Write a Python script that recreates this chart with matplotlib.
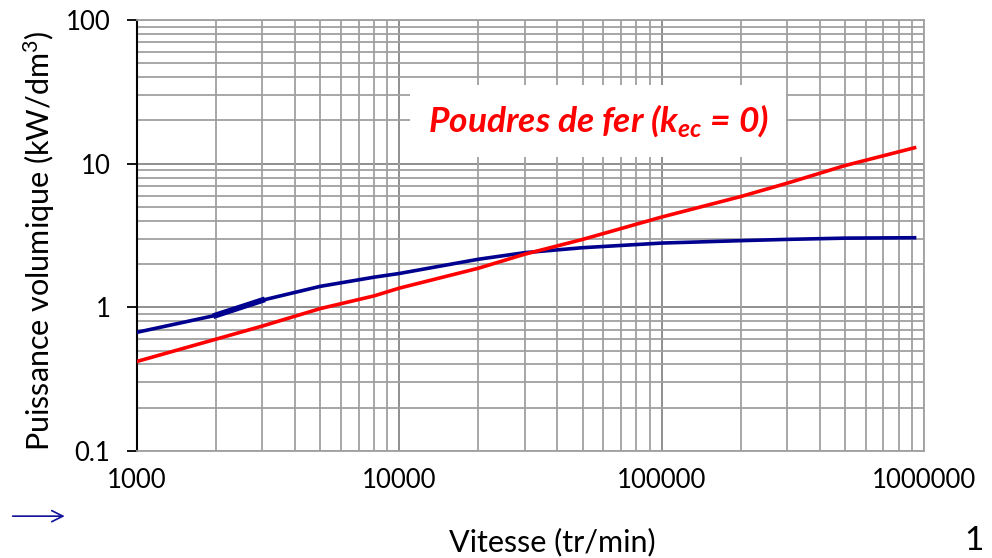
import matplotlib.pyplot as plt

plt.rcParams['font.family'] = ['Lato', 'DejaVu Sans']
plt.rcParams['mathtext.fontset'] = 'custom'
plt.rcParams['mathtext.it'] = 'Lato:bold:italic'
plt.rcParams['mathtext.rm'] = 'Lato:bold:italic'

# vitesse (tr/min) et puissance volumique (kW/dm3)
vitesse = [1000, 2000, 3000, 5000, 8000, 10000, 20000, 30000, 50000,
           100000, 200000, 300000, 500000, 920000]
p_tole = [0.67, 0.88, 1.12, 1.40, 1.62, 1.72, 2.16, 2.40, 2.60,
          2.80, 2.91, 2.97, 3.03, 3.05]
p_poudre = [0.42, 0.60, 0.74, 0.98, 1.20, 1.36, 1.87, 2.34, 2.97,
            4.25, 5.90, 7.30, 9.70, 12.9]

fig = plt.figure(figsize=(9.92, 5.58), dpi=100)
ax = fig.add_axes([0.1381, 0.1918, 0.7934, 0.7724])

ax.set_xscale('log')
ax.set_yscale('log')
ax.set_xlim(1000, 1000000)
ax.set_ylim(0.1, 100)

# grille : mineures grises, décades intérieures en noir
ax.grid(which='both', color='#A0A0A0', linewidth=1.3)
for xv in [10000, 100000]:
    ax.axvline(xv, color='black', linewidth=1.3, zorder=1)
for yv in [1, 10]:
    ax.axhline(yv, color='black', linewidth=1.3, zorder=1)

for side in ['top', 'right', 'bottom']:
    ax.spines[side].set_color('#A0A0A0')
    ax.spines[side].set_linewidth(1.3)
ax.spines['left'].set_color('black')
ax.spines['left'].set_linewidth(1.5)

ax.set_xticks([1000, 10000, 100000, 1000000])
ax.set_xticklabels(['1000', '10000', '100000', '1000000'])
ax.set_yticks([0.1, 1, 10, 100])
ax.set_yticklabels(['0.1', '1', '10', '100'])
ax.tick_params(which='minor', length=0)
ax.tick_params(axis='x', which='major', length=0, pad=12, labelsize=18.5)
ax.tick_params(axis='y', which='major', length=7, width=1.3, pad=12, labelsize=18.5)

ax.plot(vitesse, p_tole, color='#00008F', linewidth=2.6, zorder=3)
ax.plot(vitesse[1:3], p_tole[1:3], color='#00008F', linewidth=4.2, zorder=3)
ax.plot(vitesse, p_poudre, color='#FF0000', linewidth=2.6, zorder=4)

ax.text(0.586, 0.766, r'Poudres de fer (k$_{ec}$ = 0)', transform=ax.transAxes,
        ha='center', va='center', color='#FF0000', fontsize=25.5,
        fontweight='bold', fontstyle='italic', zorder=5,
        bbox=dict(boxstyle='square,pad=0.5', facecolor='white', edgecolor='none'))

fig.text(0.040, 0.568, 'Puissance volumique (kW/dm$^3$)', rotation=90,
         ha='center', va='center', fontsize=22)
plt.rcParams['mathtext.rm'] = 'Lato'
fig.text(0.557, 0.028, 'Vitesse (tr/min)', ha='center', va='center', fontsize=22)
fig.text(0.982, 0.030, '1', ha='center', va='center', fontsize=24)

fig.patches.append(plt.matplotlib.patches.FancyArrowPatch(
    (0.010, 0.075), (0.068, 0.075), transform=fig.transFigure,
    arrowstyle='->,head_length=8,head_width=4', color='#10109A', linewidth=1.2))

fig.savefig('out.png', dpi=100)
